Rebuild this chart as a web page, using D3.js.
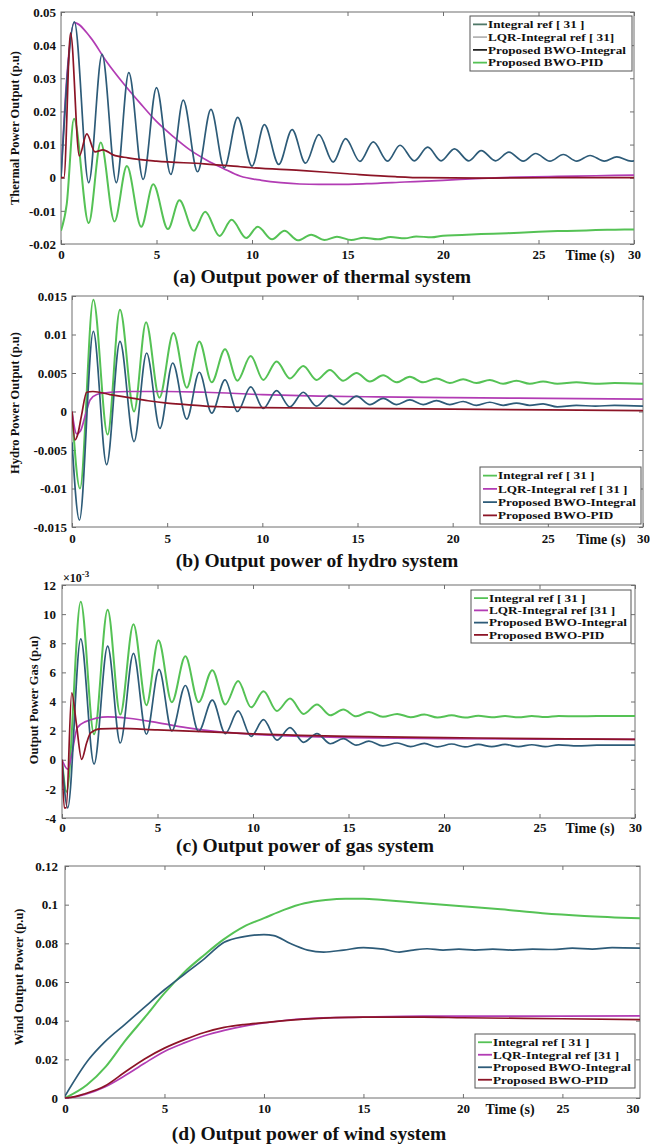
<!DOCTYPE html>
<html><head><meta charset="utf-8">
<script src="https://cdn.jsdelivr.net/npm/d3@7"></script>
<style>
body{margin:0;background:#fff;}
svg{display:block;}
text{font-family:"Liberation Serif","Times New Roman",serif;font-weight:bold;fill:#111;}
</style></head><body>
<svg id="chart" width="650" height="1147"></svg>
<script>
// ---------- tick labels ----------
const timeTicks = [0,5,10,15,20,25,30];
const thermalTicks = [-0.02,-0.01,0,0.01,0.02,0.03,0.04,0.05];
const hydroTicks = [-0.015,-0.01,-0.005,0,0.005,0.01,0.015];
const gasTicks = [-4,-2,0,2,4,6,8,10,12];   // x 10^-3
const windTicks = [0,0.02,0.04,0.06,0.08,0.1,0.12];

const seriesNames = ["Integral ref [ 31 ]","LQR-Integral ref [ 31 ]","Proposed BWO-Integral","Proposed BWO-PID"];
const legendThermal = ["Integral ref [ 31 ]","LQR-Integral ref [ 31]","Proposed BWO-Integral","Proposed BWO-PID"];
const legendGas = ["Integral ref [ 31 ]","LQR-Integral ref [31 ]","Proposed BWO-Integral","Proposed BWO-PID"];
const legendWind = ["Integral ref [ 31 ]","LQR-Integral ref [31 ]","Proposed BWO-Integral","Proposed BWO-PID"];

// ---------- (a) thermal ----------
const thermalIntegral = [[0,-0.016],[0.3,-0.008],[0.68,0.0178],[1.45,-0.0137],[2.08,0.0106],[2.8,-0.0132],[3.45,0.0035],[4.2,-0.0148],[4.83,-0.002],[5.6,-0.0155],[6.2,-0.0068],[6.95,-0.016],[7.55,-0.0103],[8.3,-0.0176],[8.93,-0.0127],[9.7,-0.0182],[10.3,-0.0148],[11.05,-0.0186],[11.7,-0.016],[12.4,-0.0189],[13.1,-0.0172],[13.8,-0.0188],[14.45,-0.0178],[15.2,-0.0188],[15.85,-0.0181],[16.6,-0.0186],[17.25,-0.0179],[18.0,-0.0183],[18.6,-0.0177],[19.4,-0.018],[20,-0.0175],[21,-0.0173],[22,-0.017],[23,-0.0168],[24,-0.0166],[25,-0.0163],[26,-0.0161],[27,-0.016],[28,-0.0158],[29,-0.0157],[30,-0.0156]];
const thermalLQR = [[0,0],[0.3,0.03],[0.7,0.0468],[1.52,0.0425],[2.39,0.035],[3.26,0.0285],[4.14,0.0225],[5.01,0.0169],[5.88,0.0124],[6.75,0.0084],[7.63,0.0053],[8.5,0.0028],[9.37,0.0005],[10.5,-0.0008],[11.5,-0.0015],[12.5,-0.0019],[13.5,-0.002],[14.5,-0.002],[16,-0.0018],[18,-0.0013],[20,-0.0008],[22,-0.0002],[24,0.0002],[26,0.0004],[28,0.0006],[30,0.0008]];
const thermalBWOInt = [[0,0],[0.7,0.047],[1.45,-0.0015],[2.15,0.0372],[2.9,-0.0015],[3.55,0.0317],[4.3,-0.0005],[5.0,0.0272],[5.75,0.001],[6.4,0.0234],[7.15,0.0018],[7.85,0.0206],[8.55,0.003],[9.25,0.0182],[10.0,0.0035],[10.65,0.016],[11.4,0.004],[12.1,0.0145],[12.8,0.0044],[13.5,0.013],[14.25,0.0047],[14.9,0.0118],[15.65,0.0049],[16.35,0.0108],[17.1,0.005],[17.75,0.0098],[18.5,0.0051],[19.2,0.0092],[19.9,0.0051],[20.6,0.0087],[21.35,0.0051],[22.0,0.0082],[22.75,0.0051],[23.45,0.0077],[24.2,0.005],[24.85,0.0073],[25.6,0.005],[26.3,0.007],[27.0,0.005],[27.7,0.0067],[28.45,0.005],[29.1,0.0063],[29.85,0.005],[30,0.0051]];
const thermalBWOPID = [[0,0],[0.15,0.0],[0.5,0.0436],[0.96,0.0066],[1.35,0.0132],[1.78,0.0078],[2.2,0.0084],[2.73,0.0069],[3.5,0.006],[5,0.005],[7.5,0.0042],[9.4,0.0033],[10,0.003],[12.5,0.0022],[15,0.0012],[17.5,0.0003],[19,0.0],[22,-0.0001],[26,0.0],[30,0.0]];

// ---------- (b) hydro ----------
const hydroIntegral = [[0,0],[0.42,-0.010],[1.12,0.0145],[1.87,-0.003],[2.52,0.0132],[3.26,0.0],[3.89,0.0116],[4.59,0.0018],[5.33,0.0102],[6.03,0.0031],[6.69,0.0091],[7.34,0.0038],[8.04,0.0081],[8.69,0.004],[9.39,0.0072],[10.05,0.0041],[10.75,0.0065],[11.45,0.0043],[12.15,0.0059],[12.85,0.0041],[13.55,0.0054],[14.25,0.004],[14.95,0.005],[15.65,0.0039],[16.35,0.0047],[17.05,0.0038],[17.75,0.0045],[18.45,0.0038],[19.15,0.0043],[19.85,0.0037],[20.55,0.0042],[21.25,0.0037],[21.95,0.0041],[22.65,0.0036],[23.35,0.004],[24.05,0.0036],[24.75,0.0039],[25.5,0.0036],[26.5,0.0038],[27.5,0.0036],[28.5,0.0037],[30,0.0036]];
const hydroLQR = [[0,0],[0.25,-0.0029],[0.45,-0.0025],[0.7,-0.0005],[0.95,0.0015],[1.3,0.0022],[2,0.0025],[3,0.0026],[5,0.0026],[7,0.0025],[10,0.0022],[13,0.002],[16,0.0019],[20,0.0018],[25,0.0017],[30,0.0016]];
const hydroBWOInt = [[0,-0.004],[0.39,-0.0141],[1.12,0.0104],[1.82,-0.0069],[2.52,0.0091],[3.26,-0.0039],[3.92,0.0076],[4.62,-0.0022],[5.29,0.0063],[6.03,-0.001],[6.69,0.0051],[7.34,-0.0002],[8.04,0.0041],[8.69,0.0],[9.39,0.0032],[10.05,0.0004],[10.75,0.0027],[11.45,0.0006],[12.15,0.0025],[12.85,0.0007],[13.55,0.0021],[14.25,0.0009],[14.95,0.002],[15.65,0.0009],[16.35,0.0017],[17.05,0.0009],[17.75,0.0015],[18.45,0.0009],[19.15,0.0014],[19.85,0.0009],[20.55,0.0013],[21.25,0.0008],[21.95,0.0012],[22.65,0.0008],[23.35,0.0011],[24.05,0.0008],[24.75,0.001],[25.5,0.0006],[26.5,0.0008],[27.5,0.0007],[28.5,0.0008],[30,0.0007]];
const hydroBWOPID = [[0,0],[0.16,-0.0037],[0.3,-0.003],[0.5,-0.0005],[0.77,0.0025],[1.1,0.0026],[2,0.0022],[3,0.0018],[4,0.0014],[5,0.0011],[6,0.0009],[7,0.0007],[8,0.0006],[10,0.0005],[15,0.0004],[20,0.0003],[25,0.0002],[30,0.0001]];

// ---------- (c) gas (values x 10^-3) ----------
const gasIntegral = [[0,0],[0.24,-2.2],[0.98,10.85],[1.68,1.75],[2.39,10.3],[3.05,3.1],[3.74,9.3],[4.42,3.75],[5.05,8.2],[5.75,3.95],[6.46,7.1],[7.15,3.95],[7.87,6.15],[8.55,3.8],[9.22,5.4],[9.9,3.6],[10.55,4.7],[11.25,3.35],[11.94,4.2],[12.65,3.15],[13.35,3.8],[14.05,3.05],[14.73,3.45],[15.4,2.98],[16.07,3.28],[16.8,2.95],[17.55,3.15],[18.25,2.92],[18.97,3.1],[19.65,2.9],[20.4,3.05],[21.1,2.9],[21.8,3.02],[22.5,2.92],[23.2,3.0],[23.9,2.92],[24.6,3.0],[25.3,2.93],[26,3.0],[27,2.98],[28,3.0],[30,3.0]];
const gasLQR = [[0,0],[0.3,-0.65],[0.5,0.3],[0.8,2.2],[1.2,2.6],[2.4,2.95],[3.5,2.85],[5,2.55],[6.5,2.2],[8,1.95],[10,1.75],[12.5,1.6],[15,1.52],[20,1.45],[25,1.42],[30,1.4]];
const gasBWOInt = [[0,0],[0.3,-3.3],[0.98,8.3],[1.68,-0.3],[2.39,7.8],[3.05,1.15],[3.74,7.3],[4.42,1.75],[5.08,6.2],[5.75,1.98],[6.46,5.1],[7.15,1.95],[7.87,4.1],[8.55,1.8],[9.22,3.35],[9.9,1.6],[10.55,2.75],[11.25,1.35],[11.94,2.2],[12.65,1.2],[13.35,1.8],[14.05,1.1],[14.73,1.45],[15.4,1.0],[16.07,1.28],[16.8,0.95],[17.55,1.15],[18.25,0.9],[18.97,1.12],[19.65,0.88],[20.4,1.08],[21.1,0.88],[21.8,1.05],[22.5,0.9],[23.2,1.05],[23.9,0.9],[24.6,1.03],[25.3,0.9],[26,1.02],[27,0.95],[28,1.0],[30,1.0]];
const gasBWOPID = [[0,0],[0.12,-3.3],[0.22,-3.3],[0.51,4.6],[0.75,2.5],[1.03,0.03],[1.3,1.2],[1.5,1.85],[2,2.12],[3,2.15],[5,2.05],[7,1.95],[10,1.78],[12.5,1.68],[15,1.6],[20,1.52],[25,1.45],[30,1.4]];

// ---------- (d) wind ----------
const windIntegral = [[0,0],[1.11,0.0069],[2.06,0.0164],[3.0,0.0293],[4.05,0.0422],[5.0,0.0542],[5.95,0.0646],[7.0,0.074],[7.94,0.0818],[8.99,0.0887],[10,0.093],[11,0.0973],[12.04,0.1007],[13.1,0.1024],[14.1,0.1031],[15.0,0.1031],[16,0.1024],[17.7,0.101],[19.8,0.0993],[21.9,0.0976],[24,0.0956],[26.1,0.0942],[28.9,0.093]];
const windLQR = [[0,0],[0.5,0.0005],[1,0.0018],[2,0.0057],[3,0.0115],[4,0.018],[5,0.0241],[6,0.0285],[7,0.0322],[8,0.035],[9,0.0372],[10,0.0388],[12,0.041],[15,0.0418],[18,0.0423],[20,0.0423],[25,0.0424],[28.9,0.0425]];
const windBWOInt = [[0,0.001],[1.2,0.02],[2,0.029],[3,0.038],[4,0.047],[5,0.056],[6,0.064],[7,0.072],[8,0.0805],[9,0.0835],[10,0.0845],[10.5,0.084],[11.3,0.08],[12.2,0.0765],[13,0.0755],[14,0.0765],[15,0.0778],[16,0.077],[16.8,0.0755],[17.5,0.0765],[18.2,0.0772],[19,0.0765],[19.8,0.077],[20.6,0.0765],[21.5,0.077],[22.5,0.0765],[23.5,0.077],[24.5,0.0768],[25.5,0.0775],[26.5,0.077],[27.5,0.0778],[28.9,0.0775]];
const windBWOPID = [[0,0],[0.5,0.0007],[1,0.0022],[2,0.0062],[3,0.0133],[4,0.0202],[5,0.0258],[6,0.0302],[7,0.0339],[8,0.0365],[9,0.038],[10,0.039],[12,0.0408],[15,0.0418],[18,0.0418],[20,0.0415],[25,0.041],[28.9,0.0405]];

// ---------- styles ----------
const GREEN="#55c255", MAGENTA="#b23cb4", TEAL="#2d5b78", RED="#8c1426";
const colorOrder=[GREEN,MAGENTA,TEAL,RED];
const thermalLegendColors=["#4f7868","#b5b5b5","#222222",GREEN];
const FRAME="#6f6f6f";

const panels=[
 {box:{l:61,r:634,t:12,b:244}, xMax:30, yDomain:[-0.02,0.05], yTicks:thermalTicks,
  data:[thermalIntegral,thermalLQR,thermalBWOInt,thermalBWOPID],
  legend:{x:470,y:16,w:162,h:55}, legendLabels:legendThermal, legendColors:thermalLegendColors,
  title:"(a) Output power of thermal system", titlePos:[322,276],
  yTitle:"Thermal Power Output (p.u)", yTitlePos:[19,128], xPad:6, timeX:590, yPad:5},
 {box:{l:72,r:643,t:296,b:527}, xMax:30, yDomain:[-0.015,0.015], yTicks:hydroTicks,
  data:[hydroIntegral,hydroLQR,hydroBWOInt,hydroBWOPID],
  legend:{x:480,y:467,w:161,h:57}, legendLabels:seriesNames, legendColors:colorOrder,
  title:"(b) Output power of hydro system", titlePos:[317,560],
  yTitle:"Hydro Power Output (p.u)", yTitlePos:[19,403], xPad:7, timeX:601, yPad:5},
 {box:{l:62,r:635,t:585,b:818}, xMax:30, yDomain:[-4,12], yTicks:gasTicks,
  data:[gasIntegral,gasLQR,gasBWOInt,gasBWOPID],
  legend:{x:471,y:590,w:160,h:53}, legendLabels:legendGas, legendColors:colorOrder,
  title:"(c) Output power of gas system", titlePos:[305,845],
  yTitle:"Output Power Gas (p.u)", yTitlePos:[38,700], xPad:5, timeX:590, yPad:6, exponent:true},
 {box:{l:65,r:640,t:866,b:1098}, xMax:28.9, yDomain:[0,0.12], yTicks:windTicks,
  data:[windIntegral,windLQR,windBWOInt,windBWOPID],
  legend:{x:475,y:1034,w:160,h:54}, legendLabels:legendWind, legendColors:colorOrder,
  title:"(d) Output power of wind system", titlePos:[309,1133],
  yTitle:"Wind Output Power (p.u)", yTitlePos:[23,977], xPad:6, timeX:510, yPad:7}
];

const svg=d3.select('#chart');
const FONT='"Liberation Serif","Times New Roman",serif';

function styleAxis(sel,size){
  sel.attr('font-family',FONT).attr('font-size',size).attr('font-weight','bold');
  sel.select('.domain').remove();
  sel.selectAll('.tick line').attr('stroke',FRAME);
  sel.selectAll('.tick text').attr('fill','#111');
}
// widen glyphs horizontally (the reference text is stretched)
function stretch(sel,f){
  sel.each(function(){
    const w=this.getComputedTextLength();
    if(w>0){this.setAttribute('textLength',(w*f).toFixed(1));this.setAttribute('lengthAdjust','spacingAndGlyphs');}
  });
}

panels.forEach((p,i)=>{
  const x=d3.scaleLinear().domain([0,p.xMax]).range([p.box.l,p.box.r]);
  const y=d3.scaleLinear().domain(p.yDomain).range([p.box.b,p.box.t]);
  const g=svg.append('g');
  const clipId='clip'+i;
  g.append('clipPath').attr('id',clipId).append('rect')
    .attr('x',p.box.l).attr('y',p.box.t-2).attr('width',p.box.r-p.box.l).attr('height',p.box.b-p.box.t+4);

  const xt=timeTicks.filter(v=>v<=p.xMax);
  const ax=g.append('g').attr('transform',`translate(0,${p.box.b})`)
    .call(d3.axisBottom(x).tickValues(xt).tickSizeInner(-4).tickSizeOuter(0).tickPadding(p.xPad).tickFormat(d=>String(d)));
  styleAxis(ax,13);
  const at=g.append('g').attr('transform',`translate(0,${p.box.t})`)
    .call(d3.axisBottom(x).tickValues(xt).tickSizeInner(4).tickSizeOuter(0).tickFormat(''));
  styleAxis(at,13);
  const al=g.append('g').attr('transform',`translate(${p.box.l},0)`)
    .call(d3.axisLeft(y).tickValues(p.yTicks).tickSizeInner(-4).tickSizeOuter(0).tickPadding(p.yPad).tickFormat(d=>String(d)));
  styleAxis(al,13);
  const ar=g.append('g').attr('transform',`translate(${p.box.r},0)`)
    .call(d3.axisLeft(y).tickValues(p.yTicks).tickSizeInner(4).tickSizeOuter(0).tickFormat(''));
  styleAxis(ar,13);

  const lastT=timeTicks[timeTicks.length-1];
  if(p.xMax<lastT){
    g.append('text').attr('x',x(p.xMax)-7).attr('y',p.box.b+p.xPad).attr('dy','0.71em')
      .attr('text-anchor','middle').attr('font-size',13).text(String(lastT));
  }

  g.append('rect').attr('x',p.box.l).attr('y',p.box.t).attr('width',p.box.r-p.box.l).attr('height',p.box.b-p.box.t)
    .attr('fill','none').attr('stroke',FRAME).attr('stroke-width',1);

  const line=d3.line().x(d=>x(d[0])).y(d=>y(d[1])).curve(d3.curveMonotoneX);
  [0,1,2,3].forEach(k=>{
    g.append('path').datum(p.data[k]).attr('clip-path',`url(#${clipId})`)
      .attr('d',line).attr('fill','none').attr('stroke',colorOrder[k])
      .attr('stroke-width',k===0?2:1.7).attr('stroke-linejoin','round');
  });

  g.append('text').attr('x',p.timeX).attr('y',p.box.b+p.xPad).attr('dy','0.71em')
    .attr('text-anchor','middle').attr('font-size',14).text('Time (s)');

  g.append('text').attr('x',p.titlePos[0]).attr('y',p.titlePos[1]+6.5).attr('text-anchor','middle')
    .attr('font-size',19.5).text(p.title);
  g.append('text').attr('transform',`translate(${p.yTitlePos[0]},${p.yTitlePos[1]}) rotate(-90)`)
    .attr('text-anchor','middle').attr('font-size',12.5).text(p.yTitle);

  if(p.exponent){
    const t=g.append('text').attr('x',p.box.l+1).attr('y',p.box.t-3).attr('font-size',12).attr('font-weight','normal');
    t.append('tspan').text('×10');
    t.append('tspan').attr('dy',-5).attr('font-size',9).text('-3');
  }

  const L=p.legend;
  const lg=g.append('g');
  lg.append('rect').attr('x',L.x).attr('y',L.y).attr('width',L.w).attr('height',L.h)
    .attr('fill','#fff').attr('stroke','#555').attr('stroke-width',1);
  const rowH=(L.h-4)/4;
  p.legendLabels.forEach((lab,k)=>{
    const cy=L.y+2+rowH*(k+0.5);
    lg.append('line').attr('x1',L.x+3).attr('x2',L.x+17).attr('y1',cy).attr('y2',cy)
      .attr('stroke',p.legendColors[k]).attr('stroke-width',1.8);
    const t=lg.append('text').attr('x',L.x+18).attr('y',cy+3.8).attr('font-size',11).text(lab);
    stretch(t,1.2);
  });
});
</script>
</body></html>
